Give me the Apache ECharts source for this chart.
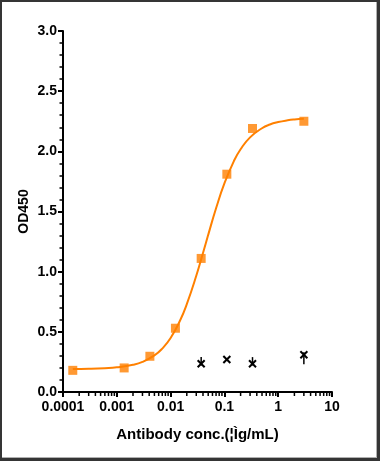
<!DOCTYPE html>
<html>
<head>
<meta charset="utf-8">
<script src="https://cdn.jsdelivr.net/npm/echarts@6/dist/echarts.min.js"></script>
<style>
html,body{margin:0;padding:0;background:#fff;}
#wrap{position:relative;width:380px;height:461px;}
#chart{position:absolute;left:0;top:0;width:380px;height:461px;}
#frame{position:absolute;left:0;top:0;width:380px;height:461px;box-sizing:border-box;
 border-top:2px solid #353535;border-left:2px solid #353535;border-right:3px solid #353535;border-bottom:3px solid #353535;
 box-shadow:inset -1px -1px 0 #b0b0b0;pointer-events:none;}
</style>
</head>
<body>
<div id="wrap"><div id="chart"></div><div id="frame"></div></div>
<script>
// ---- data ----
const orangeX = [0.000152, 0.00137, 0.00412, 0.0123, 0.037, 0.111, 0.333, 3];
const orangeY = [0.18, 0.20, 0.297, 0.53, 1.11, 1.81, 2.19, 2.25];

const curveX = [0.000152, 0.0003, 0.0006, 0.001, 0.002, 0.003, 0.005, 0.007, 0.01, 0.015, 0.02, 0.03, 0.04, 0.05, 0.07, 0.1, 0.15, 0.2, 0.3, 0.5, 0.7, 1, 1.5, 2, 3];
const curveY = [0.191, 0.193, 0.198, 0.205, 0.226, 0.250, 0.304, 0.361, 0.449, 0.594, 0.730, 0.966, 1.155, 1.306, 1.527, 1.733, 1.919, 2.017, 2.116, 2.192, 2.223, 2.243, 2.258, 2.265, 2.271];

const blackX = [0.037, 0.111, 0.333, 3];
const blackY = [0.235, 0.27, 0.235, 0.31];
const blackLow = [0.22, 0.26, 0.22, 0.23];
const blackHigh = [0.29, 0.28, 0.29, 0.33];

const xTickLabels = ['0.0001', '0.001', '0.01', '0.1', '1', '10'];
const yTickLabels = ['0.0', '0.5', '1.0', '1.5', '2.0', '2.5', '3.0'];
const xMinorMultipliers = [2, 3, 4, 5, 6, 7, 8, 9];
const xDecades = [0.0001, 0.001, 0.01, 0.1, 1];

const FONT = '"Liberation Sans", Arial, sans-serif';

const minorTickData = [];
xDecades.forEach(d => xMinorMultipliers.forEach(m => minorTickData.push([d * m, 0])));

const chart = echarts.init(document.getElementById('chart'), null, {renderer: 'canvas'});
chart.setOption({
  animation: false,
  backgroundColor: '#fff',
  grid: {left: 63, right: 48, top: 31, bottom: 69, containLabel: false},
  xAxis: {
    type: 'log', logBase: 10, min: 0.0001, max: 10,
    name: 'Antibody conc.(¦Ìg/mL)', nameLocation: 'middle', nameGap: 35, nameMoveOverlap: false,
    nameTextStyle: {fontFamily: FONT, fontWeight: 'bold', fontSize: 15, color: '#000'},
    axisLine: {show: true, lineStyle: {color: '#000', width: 2}},
    axisTick: {show: true, inside: false, length: 5, lineStyle: {color: '#000', width: 2}},
    axisLabel: {
      margin: 8, fontFamily: FONT, fontWeight: 'bold', fontSize: 14, color: '#000',
      formatter: v => xTickLabels[Math.round(Math.log10(v)) + 4]
    },
    splitLine: {show: false}
  },
  yAxis: {
    type: 'value', min: 0, max: 3, interval: 0.5,
    name: 'OD450', nameLocation: 'middle', nameGap: 32, nameMoveOverlap: false,
    nameTextStyle: {fontFamily: FONT, fontWeight: 'bold', fontSize: 14, color: '#000'},
    axisLine: {show: true, lineStyle: {color: '#000', width: 2}},
    axisTick: {show: true, inside: false, length: 5, lineStyle: {color: '#000', width: 2}},
    minorTick: {show: true, splitNumber: 5, length: 3.5, lineStyle: {color: '#000', width: 1.5}},
    axisLabel: {
      margin: 6, fontFamily: FONT, fontWeight: 'bold', fontSize: 14, color: '#000',
      formatter: v => yTickLabels[Math.round(v / 0.5)]
    },
    splitLine: {show: false}
  },
  series: [
    {
      type: 'line', data: curveX.map((x, i) => [x, curveY[i]]),
      smooth: true, showSymbol: false, symbol: 'none',
      lineStyle: {color: '#FF8000', width: 2}, silent: true, z: 2
    },
    {
      type: 'scatter', data: orangeX.map((x, i) => [x, orangeY[i]]),
      symbol: 'rect', symbolSize: 9, itemStyle: {color: '#FF8000'}, z: 3
    },
    {
      type: 'custom', clip: false, z: 4,
      data: blackX.map((x, i) => [x, blackY[i], blackLow[i], blackHigh[i]]),
      encode: {x: 0, y: 1},
      renderItem: function (params, api) {
        const c = api.coord([api.value(0), api.value(1)]);
        const lo = api.coord([api.value(0), api.value(2)]);
        const hi = api.coord([api.value(0), api.value(3)]);
        const s = 3.5;
        const st = {stroke: '#000', lineWidth: 2};
        return {type: 'group', children: [
          {type: 'line', shape: {x1: c[0] - s, y1: c[1] - s, x2: c[0] + s, y2: c[1] + s}, style: st},
          {type: 'line', shape: {x1: c[0] + s, y1: c[1] - s, x2: c[0] - s, y2: c[1] + s}, style: st},
          {type: 'line', shape: {x1: c[0], y1: hi[1], x2: c[0], y2: lo[1]}, style: {stroke: '#000', lineWidth: 1.5}}
        ]};
      }
    },
    {
      type: 'custom', clip: false, silent: true, z: 5,
      data: minorTickData, encode: {x: 0, y: 1},
      renderItem: function (params, api) {
        const p = api.coord([api.value(0), api.value(1)]);
        return {type: 'line', shape: {x1: p[0], y1: p[1], x2: p[0], y2: p[1] + 4}, style: {stroke: '#000', lineWidth: 1.5}};
      }
    }
  ]
});
</script>
</body>
</html>
